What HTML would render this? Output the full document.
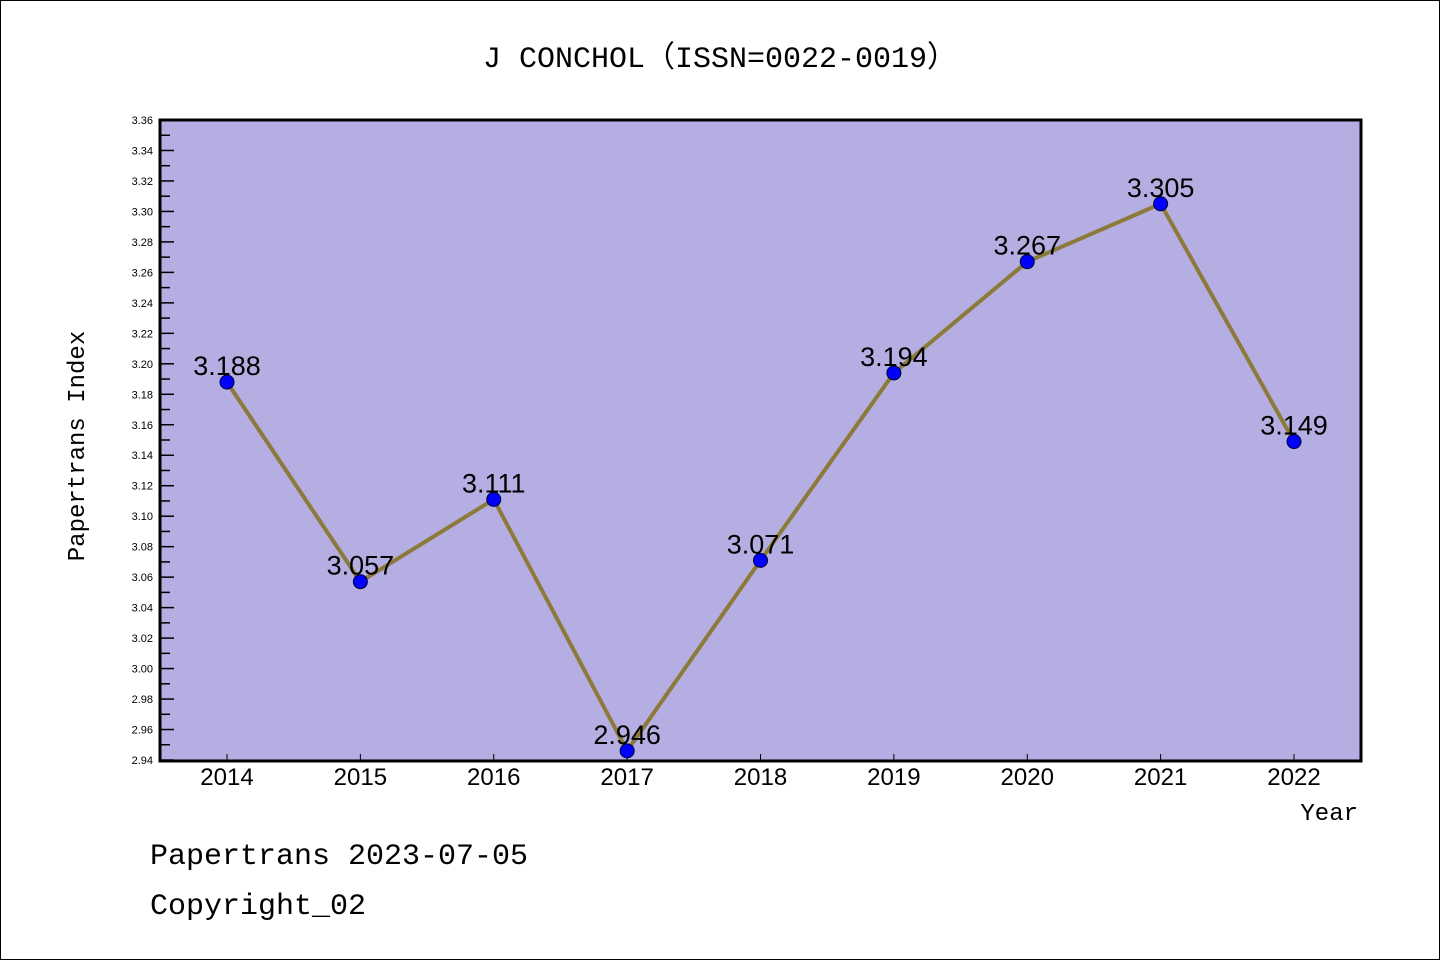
<!DOCTYPE html>
<html><head><meta charset="utf-8"><style>
body{margin:0;background:#fff}
svg{display:block}
text{font-family:"Liberation Sans","WenQuanYi Zen Hei",sans-serif;fill:#000}
.mono{font-family:"Liberation Mono","WenQuanYi Zen Hei",monospace}
</style></head><body>
<svg id="chart" width="1440" height="960">
<rect x="0.5" y="0.5" width="1439" height="959" fill="#fff" stroke="#000"/>
<text class="mono" x="720" y="67" font-size="30" text-anchor="middle">J CONCHOL（ISSN=0022-0019）</text>
<rect x="160" y="120" width="1201" height="641" fill="#b5aee2"/>
<g id="yticks"></g><g id="xticks"></g>
<g id="series"></g>
<rect x="160" y="120" width="1201" height="641" fill="none" stroke="#000" stroke-width="3"/>
<text class="mono" x="84" y="446" font-size="24" text-anchor="middle" transform="rotate(-90 84 446)">Papertrans Index</text>
<text class="mono" x="1358" y="820" font-size="24" text-anchor="end">Year</text>
<text class="mono" x="150" y="864" font-size="30">Papertrans 2023-07-05</text>
<text class="mono" x="150" y="914" font-size="30">Copyright_02</text>
</svg>
<script>
const categories=["2014","2015","2016","2017","2018","2019","2020","2021","2022"];
const values=[3.188,3.057,3.111,2.946,3.071,3.194,3.267,3.305,3.149];
const valueLabels=["3.188","3.057","3.111","2.946","3.071","3.194","3.267","3.305","3.149"];
const yMin=2.94,yMax=3.36;
const NS="http://www.w3.org/2000/svg";
const x0=227,xStep=(1294-227)/8;
function xs(i){return x0+i*xStep;}
function ys(v){return 760-(v-yMin)/(yMax-yMin)*640;}
function mk(tag,attrs,parent){const e=document.createElementNS(NS,tag);for(const k in attrs)e.setAttribute(k,attrs[k]);parent.appendChild(e);return e;}
const yt=document.getElementById('yticks');
for(let k=0;k<=42;k++){
  const v=yMin+k*0.01,y=ys(v),major=k%2===0;
  const t=mk('line',{x1:160,x2:160+(major?14:10),y1:y,y2:y,stroke:'#000','stroke-width':1.5},yt);
  
  
  if(major){
    const l=mk('text',{x:153,y:y+4,'font-size':11,'text-anchor':'end'},yt);
    l.textContent=v.toFixed(2);
    
    
  }
}
const xt=document.getElementById('xticks');
categories.forEach((c,i)=>{
  const t=mk('line',{x1:xs(i),x2:xs(i),y1:754,y2:760,stroke:'#000','stroke-width':1},xt);
  
  
  const l=mk('text',{x:xs(i),y:785,'font-size':24,'text-anchor':'middle'},xt);
  l.textContent=c;
  
  
});
const s=document.getElementById('series');
const line=mk('polyline',{points:values.map((v,i)=>xs(i)+','+ys(v)).join(' '),fill:'none',stroke:'#8c7a3a','stroke-width':4},s);


values.forEach((v,i)=>{
  const c=mk('circle',{cx:xs(i),cy:ys(v),r:7,fill:'#0000ff',stroke:'#000033','stroke-width':1},s);
  
  
  const l=mk('text',{x:xs(i),y:ys(v)-7,'font-size':27,'text-anchor':'middle'},s);
  l.textContent=valueLabels[i];
  
  
});
</script>
</body></html>
